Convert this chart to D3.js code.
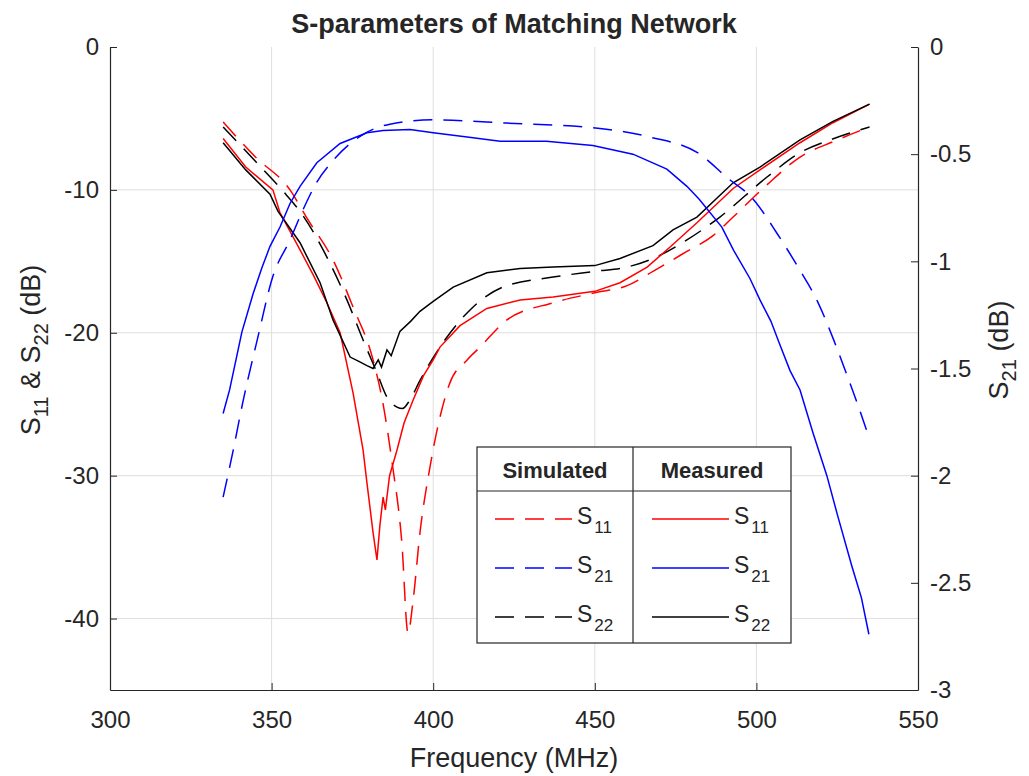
<!DOCTYPE html>
<html lang="en">
<head>
    <meta charset="UTF-8">
    <title>S-parameters of Matching Network</title>
    <script src="https://d3js.org/d3.v7.min.js"></script>
    <style>
        body { margin: 0; background: #fff; }
        svg text { font-family: "Liberation Sans", Arial, Helvetica, sans-serif; fill: #262626; }
        .axis path, .axis line { stroke: #262626; }
    </style>
</head>
<body>
<div id="chart"></div>
<script>
    // axis settings
    var xTicks = [300, 350, 400, 450, 500, 550];
    var yLeftTicks = [0, -10, -20, -30, -40];
    var yRightTicks = [0, -0.5, -1, -1.5, -2, -2.5, -3];

    // [frequency MHz, dB]
    // simulated S11 (left axis)
    var simS11 = [[335, -5.25], [345, -7.7], [355.7, -10.0], [361, -12.0], [369, -14.9], [375.2, -18.2],
        [381.4, -21.9], [384.5, -25.0], [387.3, -29.1], [390.3, -34.7], [392.2, -41.0], [393.8, -38.7],
        [395.9, -34.0], [399, -29.4], [402.1, -25.9], [405, -23.6], [410.5, -21.9], [414.5, -21.0],
        [422.8, -19.1], [437.1, -17.9], [450, -17.2], [460, -16.7], [468, -15.7], [478.5, -14.3],
        [486.6, -13.2], [492.8, -11.9], [503, -9.7], [513.5, -7.7], [524, -6.6], [535, -5.6]];
    // simulated S22 (left axis)
    var simS22 = [[335, -5.6], [345, -8.0], [353.2, -10.0], [359.7, -11.8], [367.1, -14.7], [373.3, -17.7],
        [378.3, -20.5], [382.6, -22.8], [385.7, -24.5], [388.8, -25.2], [390.5, -25.3], [392.8, -24.7],
        [396, -23.3], [402.1, -21.0], [411.4, -18.4], [421.6, -16.8], [437.1, -16.1], [450, -15.7],
        [460, -15.4], [468, -14.8], [478.5, -13.5], [488.7, -11.9], [503.3, -9.1], [513.5, -7.4],
        [524, -6.4], [535, -5.6]];
    // measured S11 (left axis)
    var measS11 = [[335, -6.4], [342, -8.4], [350.4, -10.0], [352.6, -11.6], [358.8, -14.2], [363, -16.0],
        [367.1, -17.9], [371.2, -20.0], [375.2, -24.2], [378.3, -28.2], [379.5, -30.5], [381.4, -34.0],
        [382.6, -35.9], [383.5, -33.5], [384.5, -31.5], [385.2, -32.4], [386.5, -30.0], [388.8, -28.2],
        [391, -26.3], [393.8, -24.7], [397, -23.0], [400, -21.9], [402.1, -21.0], [408.3, -19.5],
        [416.6, -18.3], [426.9, -17.7], [437.1, -17.5], [450, -17.1], [457.8, -16.5], [466.2, -15.4],
        [473.3, -14.0], [481.6, -12.3], [492.8, -9.9], [501.1, -8.6], [513.5, -6.7], [523.7, -5.3], [535, -4.0]];
    // measured S22 (left axis)
    var measS22 = [[335, -6.7], [342, -8.6], [349.5, -10.3], [352, -11.5], [358.8, -13.7], [365, -16.5],
        [369, -19.1], [374.3, -21.7], [377, -22.0], [379.5, -22.3], [381.4, -22.5], [383, -21.9],
        [384, -22.4], [385.7, -21.2], [387, -21.6], [389.7, -19.9], [393, -19.2], [395.9, -18.5],
        [400, -17.8], [406.2, -16.8], [416.6, -15.8], [426.9, -15.5], [437.1, -15.4], [450, -15.3],
        [457.8, -14.8], [468, -13.9], [474.2, -12.8], [481.6, -11.9], [492.8, -9.5], [501.1, -8.4],
        [513.5, -6.5], [523.7, -5.2], [535, -4.0]];
    // simulated S21 (right axis)
    var simS21 = [[335, -2.10], [338, -1.89], [341.2, -1.65], [345.5, -1.37], [350.4, -1.07], [355.7, -0.90],
        [359.7, -0.76], [364, -0.63], [369, -0.53], [377, -0.42], [386.6, -0.36], [400, -0.34],
        [422.8, -0.355], [451.6, -0.38], [467, -0.42], [482.5, -0.50], [491, -0.61], [499, -0.71],
        [506.4, -0.87], [513, -1.03], [519, -1.19], [524, -1.37], [528, -1.53], [531.4, -1.67], [534.8, -1.82]];
    // measured S21 (right axis)
    var measS21 = [[335, -1.71], [337, -1.60], [340.8, -1.33], [344.3, -1.15], [347, -1.03], [349.5, -0.93],
        [352.6, -0.84], [355.7, -0.73], [358.8, -0.65], [364, -0.54], [371.2, -0.45], [379.5, -0.40],
        [384.5, -0.39], [392.8, -0.385], [400, -0.40], [410.5, -0.42], [420.7, -0.44], [435, -0.44],
        [449.4, -0.46], [461.8, -0.50], [472.3, -0.57], [478.5, -0.65], [482.3, -0.71], [489.3, -0.84],
        [493, -0.95], [498, -1.08], [501.1, -1.18], [504.5, -1.28], [507.3, -1.39], [510.4, -1.51],
        [513.5, -1.60], [517.5, -1.80], [521.8, -2.00], [525.2, -2.19], [529.5, -2.42], [532.5, -2.57],
        [534.8, -2.74]];

    var legendHeads = ["Simulated", "Measured"];
    var legendNames = ["11", "21", "22"];
    var legendColors = ["#ff0000", "#0000ff", "#000000"];

    var width = 1029, height = 776;
    var plotLeft = 110, plotRight = 918, plotTop = 47, plotBottom = 690;

    var svg = d3.select("#chart").append("svg")
        .attr("width", width)
        .attr("height", height);

    var x = d3.scaleLinear().domain([300, 550]).range([plotLeft, plotRight]);
    var yL = d3.scaleLinear().domain([-45, 0]).range([plotBottom, plotTop]);
    var yR = d3.scaleLinear().domain([-3, 0]).range([plotBottom, plotTop]);

    // grid
    svg.append("g").selectAll("line")
        .data(xTicks.slice(1, -1))
        .enter().append("line")
        .attr("x1", function (d) { return x(d); })
        .attr("x2", function (d) { return x(d); })
        .attr("y1", plotTop).attr("y2", plotBottom)
        .attr("stroke", "#dedede").attr("stroke-width", 1);
    svg.append("g").selectAll("line")
        .data(yLeftTicks.slice(1))
        .enter().append("line")
        .attr("y1", function (d) { return yL(d); })
        .attr("y2", function (d) { return yL(d); })
        .attr("x1", plotLeft).attr("x2", plotRight)
        .attr("stroke", "#dedede").attr("stroke-width", 1);

    // curves
    var lineL = d3.line().x(function (d) { return x(d[0]); }).y(function (d) { return yL(d[1]); });
    var lineR = d3.line().x(function (d) { return x(d[0]); }).y(function (d) { return yR(d[1]); });
    var smoothL = d3.line().curve(d3.curveMonotoneX).x(function (d) { return x(d[0]); }).y(function (d) { return yL(d[1]); });
    var smoothR = d3.line().curve(d3.curveMonotoneX).x(function (d) { return x(d[0]); }).y(function (d) { return yR(d[1]); });

    var curves = [
        {data: simS11, gen: smoothL, color: "#ff0000", dash: "19,11"},
        {data: simS22, gen: smoothL, color: "#000000", dash: "19,11"},
        {data: measS11, gen: lineL, color: "#ff0000", dash: null},
        {data: measS22, gen: lineL, color: "#000000", dash: null},
        {data: simS21, gen: smoothR, color: "#0000ff", dash: "19,11"},
        {data: measS21, gen: lineR, color: "#0000ff", dash: null}
    ];
    svg.append("g").selectAll("path")
        .data(curves)
        .enter().append("path")
        .attr("d", function (c) { return c.gen(c.data); })
        .attr("fill", "none")
        .attr("stroke", function (c) { return c.color; })
        .attr("stroke-width", 1.5)
        .attr("stroke-dasharray", function (c) { return c.dash; });

    // axes (ticks inward)
    var fmt = function (d) { return String(d); };
    var gx = svg.append("g").attr("class", "axis")
        .attr("transform", "translate(0," + plotBottom + ")")
        .call(d3.axisBottom(x).tickValues(xTicks).tickFormat(fmt).tickSizeInner(-7).tickSizeOuter(0).tickPadding(22));
    var gl = svg.append("g").attr("class", "axis")
        .attr("transform", "translate(" + plotLeft + ",0)")
        .call(d3.axisLeft(yL).tickValues(yLeftTicks).tickFormat(fmt).tickSizeInner(-7).tickSizeOuter(0).tickPadding(11));
    var gr = svg.append("g").attr("class", "axis")
        .attr("transform", "translate(" + plotRight + ",0)")
        .call(d3.axisRight(yR).tickValues(yRightTicks).tickFormat(fmt).tickSizeInner(-7).tickSizeOuter(0).tickPadding(12));
    [gx, gl, gr].forEach(function (g) {
        g.selectAll("text").style("font-size", "24px").attr("fill", "#262626");
        g.select(".domain").attr("stroke-width", 1.2);
    });
    gx.selectAll("text").attr("dy", "0.71em").attr("y", 21);

    // title and labels
    svg.append("text")
        .attr("x", (plotLeft + plotRight) / 2).attr("y", 33)
        .attr("text-anchor", "middle")
        .style("font-size", "27px").style("font-weight", "bold")
        .attr("fill", "#000")
        .text("S-parameters of Matching Network");

    svg.append("text")
        .attr("x", (plotLeft + plotRight) / 2).attr("y", 767)
        .attr("text-anchor", "middle")
        .style("font-size", "27px")
        .text("Frequency (MHz)");

    function subLabel(sel, parts) {
        parts.forEach(function (p) {
            if (p.sub) {
                sel.append("tspan").text(p.t).style("font-size", "20px").attr("dy", 8);
            } else {
                sel.append("tspan").text(p.t).attr("dy", p.after ? -8 : 0);
            }
        });
    }

    var ly = svg.append("text")
        .attr("transform", "translate(40,350) rotate(-90)")
        .attr("text-anchor", "middle")
        .style("font-size", "27px");
    subLabel(ly, [{t: "S"}, {t: "11", sub: true}, {t: " & S", after: true}, {t: "22", sub: true}, {t: " (dB)", after: true}]);

    var ry = svg.append("text")
        .attr("transform", "translate(1008,350) rotate(-90)")
        .attr("text-anchor", "middle")
        .style("font-size", "27px");
    subLabel(ry, [{t: "S"}, {t: "21", sub: true}, {t: " (dB)", after: true}]);

    // legend table
    var lg = svg.append("g");
    var lx0 = 477, lx1 = 791, lxm = 633, ly0 = 447, ly1 = 643, lyh = 491;
    lg.append("rect").attr("x", lx0).attr("y", ly0).attr("width", lx1 - lx0).attr("height", ly1 - ly0)
        .attr("fill", "#fff").attr("stroke", "#262626").attr("stroke-width", 1.2);
    lg.append("line").attr("x1", lx0).attr("x2", lx1).attr("y1", lyh).attr("y2", lyh)
        .attr("stroke", "#262626").attr("stroke-width", 1.2);
    lg.append("line").attr("x1", lxm).attr("x2", lxm).attr("y1", ly0).attr("y2", ly1)
        .attr("stroke", "#262626").attr("stroke-width", 1.2);

    legendHeads.forEach(function (h, i) {
        lg.append("text")
            .attr("x", i === 0 ? (lx0 + lxm) / 2 : (lxm + lx1) / 2)
            .attr("y", 478)
            .attr("text-anchor", "middle")
            .style("font-size", "22px").style("font-weight", "bold")
            .attr("fill", "#000")
            .text(h);
    });

    var rowY = [519, 568, 617];
    legendNames.forEach(function (n, i) {
        [0, 1].forEach(function (col) {
            var xs = col === 0 ? 495 : 652;
            lg.append("line")
                .attr("x1", xs).attr("x2", xs + 77)
                .attr("y1", rowY[i]).attr("y2", rowY[i])
                .attr("stroke", legendColors[i]).attr("stroke-width", 1.5)
                .attr("stroke-dasharray", col === 0 ? "19,11" : null);
            var t = lg.append("text")
                .attr("x", xs + 82).attr("y", rowY[i] + 5)
                .style("font-size", "23px");
            t.append("tspan").text("S");
            t.append("tspan").text(n).style("font-size", "17px").attr("dx", 2).attr("dy", 9);
        });
    });
</script>
</body>
</html>
